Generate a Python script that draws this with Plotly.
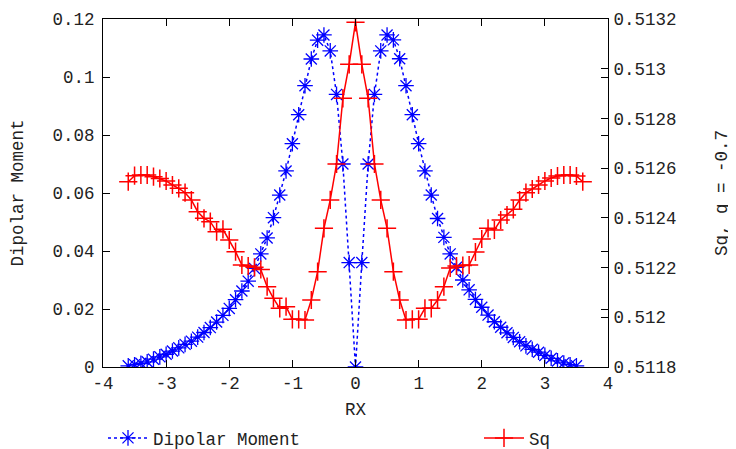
import plotly.graph_objects as go

# ---- data ----
rx_dipolar = [-3.6, -3.5, -3.4, -3.3, -3.2, -3.1, -3.0, -2.9, -2.8, -2.7, -2.6, -2.5,
              -2.4, -2.3, -2.2, -2.1, -2.0, -1.9, -1.8, -1.7, -1.6, -1.5, -1.4, -1.3,
              -1.2, -1.1, -1.0, -0.9, -0.8, -0.7, -0.6, -0.5, -0.4, -0.3, -0.2, -0.1,
              0.0,
              0.1, 0.2, 0.3, 0.4, 0.5, 0.6, 0.7, 0.8, 0.9, 1.0, 1.1, 1.2,
              1.3, 1.4, 1.5, 1.6, 1.7, 1.8, 1.9, 2.0, 2.1, 2.2, 2.3, 2.4,
              2.5, 2.6, 2.7, 2.8, 2.9, 3.0, 3.1, 3.2, 3.3, 3.4, 3.5]
dipolar_moment = [0.0004, 0.0008, 0.0013, 0.0018, 0.0027, 0.0035, 0.0044, 0.0055, 0.0066,
                  0.0078, 0.0089, 0.0103, 0.0119, 0.0136, 0.0155, 0.0178, 0.0202, 0.0232,
                  0.0262, 0.0296, 0.0340, 0.0390, 0.0445, 0.0515, 0.0593, 0.0676, 0.0770,
                  0.0870, 0.0970, 0.1062, 0.1127, 0.1145, 0.1090, 0.0940, 0.0700, 0.0360,
                  0.0,
                  0.0360, 0.0700, 0.0940, 0.1090, 0.1145, 0.1128, 0.1063, 0.0970, 0.0870,
                  0.0770, 0.0676, 0.0593, 0.0512, 0.0447, 0.0390, 0.0344, 0.0300, 0.0266,
                  0.0233, 0.0206, 0.0179, 0.0156, 0.0137, 0.0118, 0.0102, 0.0087, 0.0073,
                  0.0061, 0.0051, 0.0040, 0.0030, 0.0021, 0.0014, 0.0008, 0.0004]

rx_sq = [-3.6, -3.5, -3.4, -3.3, -3.2, -3.1, -3.0, -2.9, -2.8, -2.7, -2.6, -2.5,
         -2.4, -2.3, -2.2, -2.1, -2.0, -1.9, -1.8, -1.7, -1.6, -1.5, -1.4, -1.3,
         -1.2, -1.1, -1.0, -0.9, -0.8, -0.7, -0.6, -0.5, -0.4, -0.3, -0.2, -0.1,
         0.0,
         0.1, 0.2, 0.3, 0.4, 0.5, 0.6, 0.7, 0.8, 0.9, 1.0, 1.1, 1.2,
         1.3, 1.4, 1.5, 1.6, 1.7, 1.8, 1.9, 2.0, 2.1, 2.2, 2.3, 2.4,
         2.5, 2.6, 2.7, 2.8, 2.9, 3.0, 3.1, 3.2, 3.3, 3.4, 3.5, 3.6]
sq = [0.5125455, 0.5125696, 0.5125724, 0.5125724, 0.5125656, 0.5125583, 0.5125483,
      0.5125322, 0.5125189, 0.5125012, 0.5124718, 0.5124248, 0.5123982, 0.5123845,
      0.5123443, 0.5123540, 0.5123109, 0.5122638, 0.5122103, 0.5122063, 0.5122011,
      0.5121922, 0.5121230, 0.5120764, 0.5120360, 0.5120426, 0.5119919, 0.5119919,
      0.5119890, 0.5120695, 0.5121834, 0.5123580, 0.5124720, 0.5126167, 0.5128810,
      0.5130178,
      0.5131867,
      0.5130178, 0.5128810, 0.5126167, 0.5124720, 0.5123580, 0.5121834, 0.5120695,
      0.5119890, 0.5119919, 0.5119919, 0.5120360, 0.5120360, 0.5120695, 0.5121230,
      0.5121983, 0.5122063, 0.5122083, 0.5122103, 0.5122626, 0.5123150, 0.5123580,
      0.5123512, 0.5123914, 0.5124115, 0.5124344, 0.5124718, 0.5125012, 0.5125161,
      0.5125322, 0.5125483, 0.5125603, 0.5125684, 0.5125724, 0.5125724, 0.5125684,
      0.5125455]

x_tickvals = [-4, -3, -2, -1, 0, 1, 2, 3, 4]
x_ticktext = ["-4", "-3", "-2", "-1", "0", "1", "2", "3", "4"]
y_tickvals = [0, 0.02, 0.04, 0.06, 0.08, 0.1, 0.12]
y_ticktext = ["0", "0.02", "0.04", "0.06", "0.08", "0.1", "0.12"]
y2_tickvals = [0.5118, 0.5120, 0.5122, 0.5124, 0.5126, 0.5128, 0.5130, 0.5132]
y2_ticktext = ["0.5118", "0.512", "0.5122", "0.5124", "0.5126", "0.5128", "0.513", "0.5132"]

FONT = "Liberation Mono"
FS = 17.5
TXT = "#222222"

# the page places the figure 8px from the top-left corner of the window
W, H = 728, 441

fig = go.Figure()
fig.add_trace(go.Scatter(
    x=rx_dipolar, y=dipolar_moment, name="Dipolar Moment", mode="lines+markers",
    line=dict(color="#0000ff", width=1.5, dash="dot"),
    marker=dict(symbol="asterisk-open", size=13, color="#0000ff",
                line=dict(color="#0000ff", width=1.3)),
    yaxis="y", legend="legend", showlegend=True))
fig.add_trace(go.Scatter(
    x=rx_sq, y=sq, name="Sq", mode="lines+markers",
    line=dict(color="#ff0000", width=1.5),
    marker=dict(symbol="cross-thin-open", size=13, color="#ff0000",
                line=dict(color="#ff0000", width=1.5)),
    yaxis="y2", legend="legend2", showlegend=True))

axis_common = dict(showgrid=False, zeroline=False, showline=True, linecolor="black",
                   linewidth=1, ticks="inside", ticklen=7, tickcolor="black",
                   automargin=False,
                   tickfont=dict(family=FONT, size=FS, color=TXT))

legend_common = dict(orientation="h", xref="container", yref="container",
                     xanchor="left", yanchor="middle", y=1 - 430 / H,
                     font=dict(family=FONT, size=FS, color=TXT),
                     bgcolor="rgba(0,0,0,0)", itemwidth=40, visible=True)

fig.update_layout(
    width=W, height=H,
    showlegend=True,
    margin=dict(l=95, r=128, t=11, b=82),
    paper_bgcolor="white", plot_bgcolor="white",
    font=dict(family=FONT, size=FS, color=TXT),
    xaxis=dict(range=[-4, 4], tickvals=x_tickvals, ticktext=x_ticktext, mirror="ticks",
               title=dict(text="RX", font=dict(family=FONT, size=FS, color=TXT), standoff=10),
               **axis_common),
    yaxis=dict(range=[0, 0.12], tickvals=y_tickvals, ticktext=y_ticktext, mirror="ticks",
               ticklabelstandoff=4,
               title=dict(text="Dipolar Moment", font=dict(family=FONT, size=FS, color=TXT),
                          standoff=30),
               **axis_common),
    yaxis2=dict(range=[0.5118, 0.5132], tickvals=y2_tickvals, ticktext=y2_ticktext,
                overlaying="y", side="right", ticklabelstandoff=1,
                title=dict(text="Sq, q = -0.7", font=dict(family=FONT, size=FS, color=TXT),
                           standoff=39),
                **axis_common),
    legend=dict(x=95 / W, **legend_common),
    legend2=dict(x=471 / W, **legend_common),
)

fig.write_html("out.html")
